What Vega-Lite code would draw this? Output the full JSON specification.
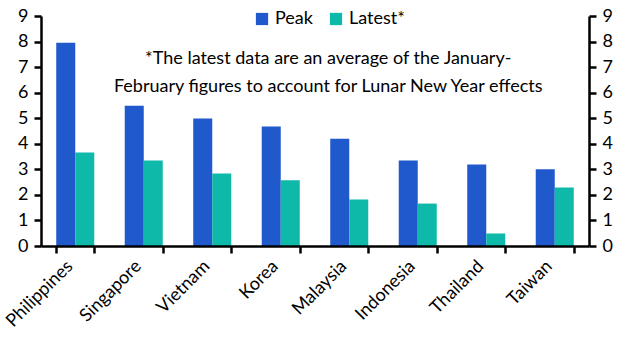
{
  "$schema": "https://vega.github.io/schema/vega-lite/v6.json",
  "width": 548,
  "height": 230,
  "autosize": {"type": "none"},
  "padding": {"left": 41, "top": 16, "right": 44, "bottom": 106},
  "background": "white",
  "config": {
    "font": "Lato",
    "view": {"stroke": null},
    "axis": {"grid": false, "domainColor": "black", "domainWidth": 2.5, "tickColor": "black", "tickWidth": 2.5, "tickSize": 7, "labelFont": "Lato", "labelFontSize": 18, "labelColor": "black", "titleFontSize": 0}
  },
  "datasets": {
    "bars": [
      {"country": "Philippines", "series": "Peak", "value": 7.95},
      {"country": "Philippines", "series": "Latest*", "value": 3.66},
      {"country": "Singapore", "series": "Peak", "value": 5.49},
      {"country": "Singapore", "series": "Latest*", "value": 3.35},
      {"country": "Vietnam", "series": "Peak", "value": 4.99},
      {"country": "Vietnam", "series": "Latest*", "value": 2.84},
      {"country": "Korea", "series": "Peak", "value": 4.68},
      {"country": "Korea", "series": "Latest*", "value": 2.57},
      {"country": "Malaysia", "series": "Peak", "value": 4.2},
      {"country": "Malaysia", "series": "Latest*", "value": 1.82},
      {"country": "Indonesia", "series": "Peak", "value": 3.35},
      {"country": "Indonesia", "series": "Latest*", "value": 1.66},
      {"country": "Thailand", "series": "Peak", "value": 3.19},
      {"country": "Thailand", "series": "Latest*", "value": 0.49},
      {"country": "Taiwan", "series": "Peak", "value": 3.0},
      {"country": "Taiwan", "series": "Latest*", "value": 2.29}
    ],
    "notes": [
      {"line": "*The latest data are an average of the  January-", "y": 7.33},
      {"line": "February figures to account for Lunar New Year effects", "y": 6.24}
    ]
  },
  "layer": [
    {
      "data": {"name": "bars"},
      "mark": {"type": "bar"},
      "encoding": {
        "x": {
          "field": "country", "type": "nominal", "sort": null,
          "scale": {"paddingInner": 0.445, "paddingOuter": 0.2225},
          "axis": {"title": null, "zindex": 1, "domain": true, "domainColor": "#000000", "domainWidth": 2.5, "domainOpacity": 1, "ticks": true, "tickColor": "#000000", "tickOpacity": 1, "tickWidth": 2.5, "tickSize": 7, "labelAngle": -45, "labelAlign": "right", "labelBaseline": "top", "tickBand": "extent", "labelPadding": 4, "labelOffset": -12, "labelFontSize": 18}
        },
        "xOffset": {"field": "series", "type": "nominal", "sort": ["Peak", "Latest*"]},
        "y": {
          "field": "value", "type": "quantitative",
          "scale": {"domain": [0, 9], "nice": false},
          "axis": {"title": null, "zindex": 1, "values": [0,1,2,3,4,5,6,7,8,9], "labelPadding": 6}
        },
        "color": {
          "field": "series", "type": "nominal",
          "scale": {"domain": ["Peak", "Latest*"], "range": ["#2059CC", "#0EB9AA"]},
          "legend": {"title": null, "orient": "none", "legendX": 212, "legendY": -6, "direction": "horizontal", "symbolType": "square", "symbolSize": 150, "labelFontSize": 18, "labelFont": "Lato", "columnPadding": 14, "symbolStrokeWidth": 0, "labelColor": "black"}
        }
      }
    },
    {
      "data": {"name": "bars"},
      "mark": {"type": "bar", "opacity": 0},
      "encoding": {
        "x": {"field": "country", "type": "nominal", "sort": null, "axis": null},
        "y": {"field": "value", "type": "quantitative", "axis": {"orient": "right", "zindex": 1, "title": null, "values": [0,1,2,3,4,5,6,7,8,9], "labelPadding": 6}}
      }
    },
    {
      "mark": {"type": "rule", "color": "black", "strokeWidth": 2.5},
      "encoding": {
        "y": {"datum": 0, "axis": null}
      }
    },
    {
      "data": {"name": "notes"},
      "mark": {"type": "text", "fontSize": 18, "font": "Lato", "color": "black", "baseline": "middle", "align": "center", "dx": -2},
      "encoding": {
        "x": {"datum": "Malaysia", "bandPosition": 0, "axis": null},
        "y": {"field": "y", "type": "quantitative", "axis": null},
        "text": {"field": "line"}
      }
    }
  ],
  "resolve": {"axis": {"x": "independent", "y": "independent"}}
}
